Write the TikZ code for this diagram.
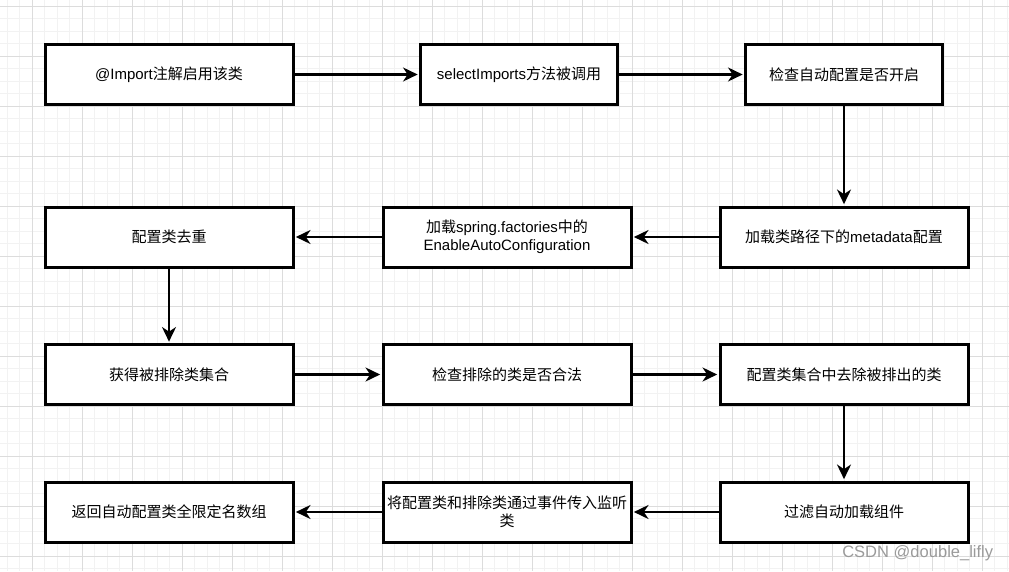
\documentclass[tikz,border=0pt]{standalone}
\usepackage{fontspec}
\setmainfont{Liberation Sans}
\newfontfamily\cjk{Noto Sans CJK SC}
\usepackage{tikz}
\usetikzlibrary{arrows.meta,positioning}
\definecolor{gridminor}{HTML}{F2F2F2}
\definecolor{gridmajor}{HTML}{DCDCDC}
\definecolor{markgray}{HTML}{9A9A9A}
\newcommand{\zhtext}[1]{{\cjk #1}}

\begin{document}
\begin{tikzpicture}[
    x=0.75pt, y=-0.75pt,
    >={Stealth[length=11pt,width=10.5pt,inset=3.5pt]},
    font=\fontsize{11.25pt}{13.5pt}\selectfont,
    stepbox/.style={
		rectangle,
		draw=black,
		line width=2.25pt,
		fill=white,
		text centered,
		align=center,
		inner sep=1pt,
		minimum width=186pt,
		minimum height=45pt
	},
	narrowbox/.style={
		stepbox,
		minimum width=147.75pt
	},
	flow/.style={
		->,
		line width=1.75pt,
		shorten >=1pt
	},
	minorline/.style={draw=gridminor, line width=0.75pt},
	majorline/.style={draw=gridmajor, line width=0.75pt}
  ]
  \useasboundingbox (0,0) rectangle (1009,571);

  % background grid
  \foreach \i in {0,...,80}
    \draw[minorline] ({7.3+12.5*\i},0) -- ({7.3+12.5*\i},571);
  \foreach \j in {0,...,45}
    \draw[minorline] (0,{6+12.5*\j}) -- (1009,{6+12.5*\j});
  \foreach \i in {0,...,19}
    \draw[majorline] ({32.3+50*\i},0) -- ({32.3+50*\i},571);
  \foreach \j in {0,...,11}
    \draw[majorline] (0,{6+50*\j}) -- (1009,{6+50*\j});

  % We start by placing the blocks
  \node [stepbox] (importann) at (169,74.5) {@Import\zhtext{注解启用该类}};
  \node [narrowbox] (selimports) at (519,74.5) {selectImports\zhtext{方法被调用}};
  \node [narrowbox] (checkauto) at (844,74.5) {\zhtext{检查自动配置是否开启}};

  \node [stepbox] (loadmeta) at (844,237) {\zhtext{加载类路径下的}metadata\zhtext{配置}};
  \node [stepbox] (loadfactories) at (507,237)
 {%
  \zhtext{加载}spring.factories\zhtext{中的}\\
  EnableAutoConfiguration
 };
  \node [stepbox] (dedup) at (169,237) {\zhtext{配置类去重}};

  \node [stepbox] (getexcl) at (169,374.5) {\zhtext{获得被排除类集合}};
  \node [stepbox] (checkexcl) at (507,374.5) {\zhtext{检查排除的类是否合法}};
  \node [stepbox] (removeexcl) at (844,374.5) {\zhtext{配置类集合中去除被排出的类}};

  \node [stepbox] (filter) at (844,512) {\zhtext{过滤自动加载组件}};
  \node [stepbox] (fireevent) at (507,512)
 {%
  \zhtext{将配置类和排除类通过事件传入监听}\\
  \zhtext{类}
 };
  \node [stepbox] (returnnames) at (169,512) {\zhtext{返回自动配置类全限定名数组}};

  \draw [flow] (importann) -- (selimports);
  \draw [flow] (selimports) -- (checkauto);
  \draw [flow] (checkauto) -- (loadmeta);
  \draw [flow] (loadmeta) -- (loadfactories);
  \draw [flow] (loadfactories) -- (dedup);
  \draw [flow] (dedup) -- (getexcl);
  \draw [flow] (getexcl) -- (checkexcl);
  \draw [flow] (checkexcl) -- (removeexcl);
  \draw [flow] (removeexcl) -- (filter);
  \draw [flow] (filter) -- (fireevent);
  \draw [flow] (fireevent) -- (returnnames);

  \node [anchor=base west, inner sep=0pt, text=markgray,
    font=\fontsize{12.4pt}{14pt}\selectfont] (watermark) at (842,557) {CSDN @double\_lifly};

\end{tikzpicture}
\end{document}
